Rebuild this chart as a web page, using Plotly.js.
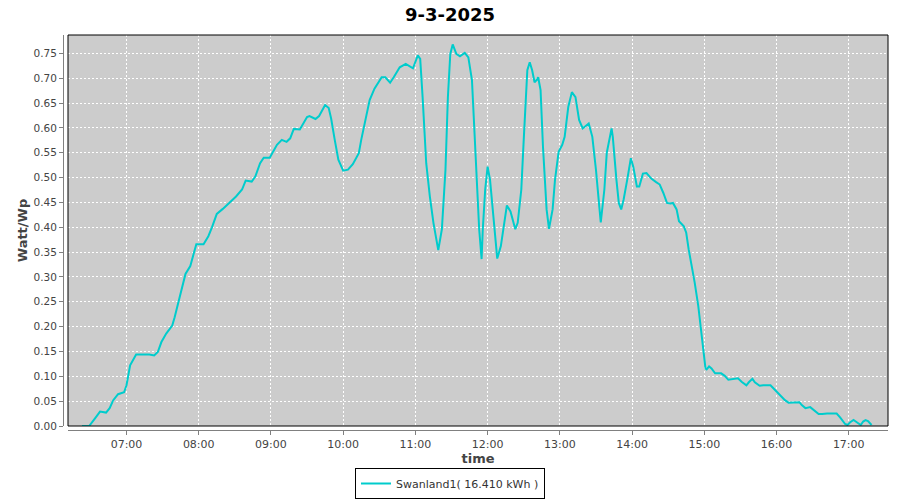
<!DOCTYPE html>
<html>
<head>
<meta charset="utf-8">
<script src="https://cdn.plot.ly/plotly-3.0.1.min.js"></script>
<style>
html,body{margin:0;padding:0;background:#fff;}
#chart{width:900px;height:500px;}
</style>
</head>
<body>
<div id="chart"></div>
<script>
// Chart data (time of day, Watt/Wp)
const day = "2025-03-09";
const chartTitle = "9-3-2025";
const seriesName = "Swanland1( 16.410 kWh )";
const times = [
"06:23","06:29","06:34","06:38","06:43","06:46","06:49","06:53","06:58","07:00",
"07:03","07:06","07:08","07:19","07:23","07:26","07:29","07:33","07:38","07:40",
"07:43","07:46","07:49","07:53","07:55","07:58","08:04","08:08","08:11","08:15",
"08:20","08:26","08:31","08:36","08:39","08:44","08:47","08:51","08:54","08:59",
"09:05","09:09","09:13","09:16","09:19","09:24","09:30","09:32","09:37","09:40",
"09:45","09:48","09:50","09:53","09:56","10:00","10:04","10:08","10:13","10:15",
"10:19","10:22","10:26","10:32","10:35","10:39","10:42","10:47","10:52","10:58",
"11:02","11:04","11:06","11:09","11:12","11:15","11:19","11:22","11:25","11:27",
"11:29","11:31","11:34","11:37","11:41","11:44","11:47","11:49","11:51","11:53",
"11:55","11:56","11:58","12:00","12:02","12:05","12:08","12:11","12:14","12:16",
"12:19","12:23","12:25","12:28","12:30","12:32","12:33","12:35","12:37","12:39",
"12:41","12:42","12:44","12:46","12:49","12:51","12:54","12:56","12:59","13:02",
"13:04","13:07","13:10","13:13","13:16","13:19","13:22","13:24","13:27","13:30",
"13:33","13:34","13:37","13:39","13:43","13:44","13:47","13:49","13:51","13:53",
"13:56","13:59","14:01","14:04","14:06","14:09","14:12","14:16","14:20","14:23",
"14:26","14:29","14:32","14:34","14:37","14:39","14:43","14:45","14:47","14:50",
"14:52","14:55","14:57","14:59","15:01","15:02","15:04","15:06","15:09","15:14",
"15:17","15:20","15:24","15:28","15:31","15:35","15:37","15:40","15:42","15:46",
"15:49","15:55","15:57","16:03","16:07","16:10","16:14","16:19","16:21","16:24",
"16:28","16:31","16:35","16:38","16:42","16:50","16:53","16:57","16:59","17:01",
"17:04","17:07","17:10","17:12","17:14","17:16","17:19"
];
const wattPerWp = [
0.000,0.000,0.016,0.029,0.027,0.036,0.052,0.064,0.068,0.082,
0.122,0.136,0.144,0.144,0.142,0.149,0.169,0.186,0.202,0.219,
0.249,0.282,0.306,0.322,0.342,0.366,0.366,0.382,0.400,0.427,
0.437,0.451,0.462,0.476,0.494,0.492,0.502,0.529,0.540,0.540,
0.566,0.576,0.572,0.579,0.598,0.597,0.622,0.624,0.618,0.624,
0.646,0.640,0.619,0.576,0.536,0.514,0.516,0.527,0.549,0.576,
0.622,0.656,0.679,0.702,0.702,0.691,0.702,0.722,0.729,0.720,
0.746,0.739,0.662,0.529,0.462,0.409,0.354,0.396,0.516,0.662,
0.749,0.768,0.749,0.744,0.751,0.742,0.696,0.596,0.496,0.396,
0.336,0.396,0.476,0.522,0.496,0.409,0.337,0.362,0.416,0.444,
0.432,0.396,0.409,0.476,0.576,0.662,0.716,0.732,0.716,0.692,
0.697,0.702,0.676,0.562,0.436,0.397,0.436,0.496,0.552,0.566,
0.582,0.642,0.672,0.662,0.616,0.599,0.606,0.609,0.582,0.516,
0.436,0.410,0.476,0.550,0.599,0.582,0.496,0.449,0.436,0.456,
0.496,0.539,0.522,0.482,0.482,0.508,0.509,0.498,0.491,0.486,
0.469,0.449,0.448,0.449,0.436,0.412,0.402,0.389,0.356,0.318,
0.289,0.242,0.196,0.149,0.116,0.114,0.120,0.116,0.106,0.106,
0.101,0.093,0.094,0.096,0.089,0.082,0.088,0.095,0.088,0.081,
0.082,0.082,0.077,0.062,0.052,0.047,0.048,0.048,0.042,0.036,
0.038,0.032,0.024,0.024,0.025,0.025,0.017,0.004,0.002,0.007,
0.012,0.007,0.002,0.009,0.012,0.010,0.002
];
const xRange = ["06:11:24","17:32:38"];
const yTickVals = [0,0.05,0.10,0.15,0.20,0.25,0.30,0.35,0.40,0.45,0.50,0.55,0.60,0.65,0.70,0.75];

const xs = times.map(t => day + " " + t);
const tickFont = {family:"DejaVu Sans", size:11, color:"#444444"};
const trace = {
  type:"scatter", mode:"lines", x:xs, y:wattPerWp, name:seriesName,
  line:{color:"#00CCCC", width:2}, showlegend:true, hoverinfo:"skip"
};
const layout = {
  width:900, height:500,
  paper_bgcolor:"#ffffff", plot_bgcolor:"#cccccc",
  margin:{l:63, r:12, t:35, b:70, pad:0},
  showlegend:true,
  title:{text:chartTitle, x:0.5, xref:"container", xanchor:"center",
         y:0.97, yref:"container", yanchor:"middle",
         font:{family:"DejaVu Sans", size:18, color:"#000000", weight:"bold"}},
  xaxis:{
    type:"date", domain:[5/825,1], anchor:"free", position:0,
    range:xRange.map(t => day + " " + t),
    tickformat:"%H:%M", dtick:3600000, tick0:day+" 00:00",
    showgrid:true, gridcolor:"#ffffff", griddash:"2px,2px", gridwidth:1,
    zeroline:false, showline:true, linecolor:"#808080", linewidth:1,
    ticks:"outside", ticklen:4, tickcolor:"#808080", tickfont:tickFont,
    title:{text:"time", standoff:3, font:{family:"DejaVu Sans", size:13, color:"#444444", weight:"bold"}},
    automargin:false, fixedrange:true
  },
  yaxis:{
    domain:[4/395,1], anchor:"free", position:0,
    range:[0,0.787], tickvals:yTickVals, tickformat:".2f",
    showgrid:true, gridcolor:"#ffffff", griddash:"2px,2px", gridwidth:1,
    zeroline:false, showline:true, linecolor:"#808080", linewidth:1,
    ticks:"outside", ticklen:4, tickcolor:"#808080",
    tickfont:{family:"DejaVu Sans", size:10.5, color:"#444444"},
    title:{text:"Watt/Wp", standoff:1, font:{family:"DejaVu Sans", size:13, color:"#444444", weight:"bold"}},
    automargin:false, fixedrange:true
  },
  legend:{
    orientation:"h", x:0.5, xref:"container", xanchor:"center",
    y:1/500, yref:"container", yanchor:"bottom",
    bordercolor:"#000000", borderwidth:1, bgcolor:"#ffffff",
    font:{family:"DejaVu Sans", size:11, color:"#333333"},
    itemwidth:30, tracegroupgap:0
  },
  shapes:[{
    type:"rect", xref:"x domain", yref:"y domain", x0:0, x1:1, y0:0, y1:1,
    line:{color:"#000000", width:1}, fillcolor:"rgba(0,0,0,0)", layer:"above"
  }],
  hovermode:false
};
Plotly.newPlot("chart", [trace], layout, {displayModeBar:false, staticPlot:true});
</script>
</body>
</html>
